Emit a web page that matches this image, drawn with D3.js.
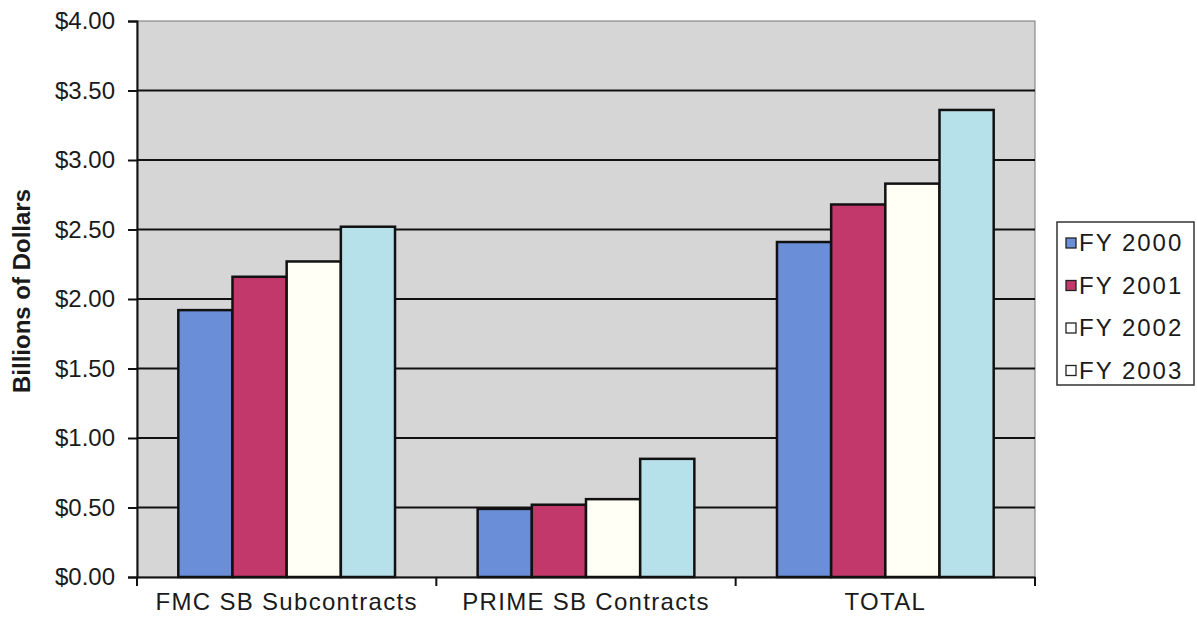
<!DOCTYPE html>
<html>
<head>
<meta charset="utf-8">
<script src="https://cdn.jsdelivr.net/npm/d3@7"></script>
<style>
  html, body { margin: 0; padding: 0; background: #fff; }
  svg { display: block; }
  text { font-family: "Liberation Sans", Arial, sans-serif; fill: #1a1a1a; }
</style>
</head>
<body>
<svg id="chart" width="1198" height="631"></svg>
<script>
// Small-business contracting, billions of dollars, by fiscal year
const categories = ["FMC SB Subcontracts", "PRIME SB Contracts", "TOTAL"];
const seriesNames = ["FY 2000", "FY 2001", "FY 2002", "FY 2003"];
const fy2000 = [1.92, 0.49, 2.41];
const fy2001 = [2.16, 0.52, 2.68];
const fy2002 = [2.27, 0.56, 2.83];
const fy2003 = [2.52, 0.85, 3.36];
const yTicks = [0, 0.5, 1, 1.5, 2, 2.5, 3, 3.5, 4];

const seriesValues = [fy2000, fy2001, fy2002, fy2003];
const barColors = ["#6a8ed8", "#c2386b", "#fffff6", "#b6e0ea"];
const swatchColors = ["#6a8ed8", "#c2386b", "#ffffff", "#ffffff"];

const svg = d3.select("#chart");
const plot = { left: 137, right: 1035, top: 21, bottom: 577 };

const x0 = d3.scaleBand().domain(categories).range([plot.left, plot.right]).padding(0);
const groupPad = x0.bandwidth() * 0.138;
const x1 = d3.scaleBand().domain(seriesNames).range([groupPad, x0.bandwidth() - groupPad]).padding(0);
const y = d3.scaleLinear().domain([0, 4]).range([plot.bottom, plot.top]);

// plot background
svg.append("rect")
  .attr("x", plot.left).attr("y", plot.top)
  .attr("width", plot.right - plot.left).attr("height", plot.bottom - plot.top)
  .attr("fill", "#d6d6d6")
  .attr("stroke", "#777").attr("stroke-width", 1);

// horizontal gridlines
svg.append("g").selectAll("line")
  .data(yTicks.filter(d => d > 0 && d < 4))
  .join("line")
  .attr("x1", plot.left).attr("x2", plot.right)
  .attr("y1", d => y(d)).attr("y2", d => y(d))
  .attr("stroke", "#111").attr("stroke-width", 2);

// bars
const rows = categories.map((c, i) => ({
  cat: c,
  vals: seriesNames.map((s, j) => ({ s, j, v: seriesValues[j][i] }))
}));

svg.append("g").selectAll("g")
  .data(rows)
  .join("g")
  .attr("transform", d => `translate(${x0(d.cat)},0)`)
  .selectAll("rect")
  .data(d => d.vals)
  .join("rect")
  .attr("x", d => x1(d.s))
  .attr("y", d => y(d.v))
  .attr("width", x1.bandwidth())
  .attr("height", d => y(0) - y(d.v))
  .attr("fill", d => barColors[d.j])
  .attr("stroke", "#111").attr("stroke-width", 2.5);

// y axis
const yAxis = d3.axisLeft(y)
  .tickValues(yTicks)
  .tickFormat(d => "$" + d3.format(".2f")(d))
  .tickSize(9)
  .tickPadding(13);
const gy = svg.append("g").attr("transform", `translate(${plot.left},0)`).call(yAxis);
gy.select(".domain").attr("stroke", "#111").attr("stroke-width", 2);
gy.selectAll(".tick line").attr("stroke", "#111").attr("stroke-width", 2);
gy.selectAll(".tick text")
  .attr("font-size", 24).attr("fill", "#222")
  .style("font-family", '"Liberation Sans", Arial, sans-serif');

// x axis
const xAxis = d3.axisBottom(x0).tickSize(0).tickPadding(0);
const gx = svg.append("g").attr("transform", `translate(0,${plot.bottom})`).call(xAxis);
gx.select(".domain").attr("stroke", "#111").attr("stroke-width", 2);
gx.selectAll(".tick text")
  .attr("y", 16)
  .attr("font-size", 24).attr("fill", "#222")
  .attr("letter-spacing", 1.3)
  .style("font-family", '"Liberation Sans", Arial, sans-serif');
// category separators
gx.append("g").selectAll("line")
  .data([plot.left, ...categories.map(c => x0(c) + x0.bandwidth())])
  .join("line")
  .attr("x1", d => d).attr("x2", d => d)
  .attr("y1", 0).attr("y2", 9)
  .attr("stroke", "#111").attr("stroke-width", 2);

// y-axis title
svg.append("text")
  .attr("transform", "translate(30,291) rotate(-90)")
  .attr("text-anchor", "middle")
  .attr("font-size", 24).attr("font-weight", "bold")
  .attr("fill", "#222")
  .text("Billions of Dollars");

// legend
const legend = svg.append("g").attr("transform", "translate(1057,222)");
legend.append("rect")
  .attr("x", 0).attr("y", 0).attr("width", 137).attr("height", 163)
  .attr("fill", "#fff").attr("stroke", "#333").attr("stroke-width", 1.5);
const items = legend.selectAll("g.item")
  .data(seriesNames)
  .join("g")
  .attr("class", "item")
  .attr("transform", (d, i) => `translate(9,${21 + i * 42.5})`);
items.append("rect")
  .attr("x", 0).attr("y", -5).attr("width", 10).attr("height", 10)
  .attr("fill", (d, i) => swatchColors[i])
  .attr("stroke", "#222").attr("stroke-width", 1.3);
items.append("text")
  .attr("x", 13).attr("y", 0).attr("dy", "0.35em")
  .attr("font-size", 24).attr("letter-spacing", 2).attr("fill", "#222")
  .text(d => d);
</script>
</body>
</html>
